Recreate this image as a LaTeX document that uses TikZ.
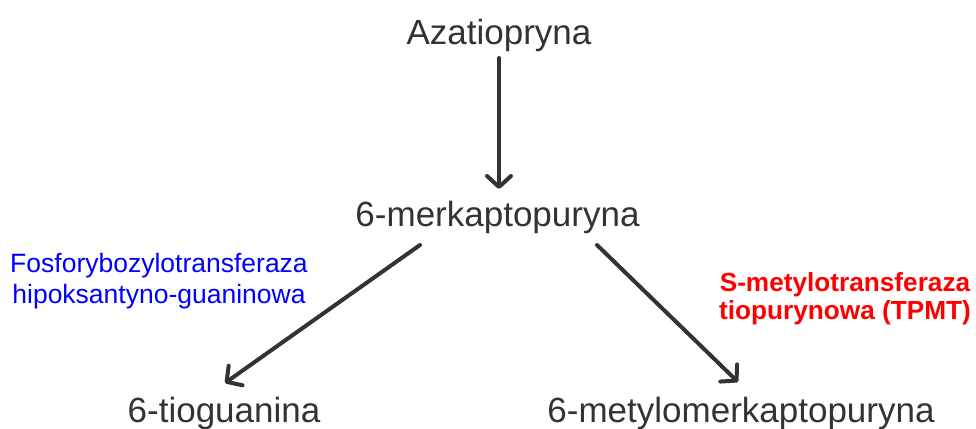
\documentclass[tikz,border=0pt]{standalone}
\usepackage{fontspec}
\setmainfont{Liberation Sans}
\usetikzlibrary{arrows.meta,calc}
\definecolor{txt}{HTML}{333333}
\definecolor{arr}{HTML}{333333}
\tikzset{
  chem/.style={anchor=base, inner sep=0pt, text=txt, font=\fontsize{35}{42}\selectfont},
  enzblue/.style={anchor=base, inner sep=0pt, align=center, text=blue, font=\fontsize{26.5}{31}\selectfont},
  enzred/.style={anchor=base, inner sep=0pt, align=center, text=red, font=\bfseries\fontsize{26.2}{28}\selectfont},
  conn/.style={draw=arr, line width=4pt, line cap=round, -{Straight Barb[length=11pt,width=24pt,line cap=round,line join=round]}}
}
\begin{document}
\begin{tikzpicture}[x=1pt,y=-1pt]
\useasboundingbox (0,0) rectangle (976,428);
\node[chem] (aza) at (499,45) {Azatiopryna};
\node[chem] (mp) at (497.5,226) {6-merkaptopuryna};
\node[chem] (tg) at (224,422) {6-tioguanina};
\node[chem] (mmp) at (741,422) {6-metylomerkaptopuryna};
\node[enzblue] (hgprt) at (159,303) {Fosforybozylotransferaza\\hipoksantyno-guaninowa};
\node[enzred] (tpmt) at (845,319) {S-metylotransferaza\\tiopurynowa (TPMT)};
\coordinate (aza-out) at ($(aza.base)+(0,13)$);
\coordinate (mp-in) at ($(mp.base)+(1.5,-37)$);
\coordinate (mp-l) at ($(mp.base)+(-77.5,19)$);
\coordinate (mp-r) at ($(mp.base)+(99.5,19)$);
\coordinate (tg-in) at ($(tg.base)+(1,-39)$);
\coordinate (mmp-in) at ($(mmp.base)+(-3,-40)$);
\draw[conn] (aza-out) -- (mp-in);
\draw[conn] (mp-l) -- (tg-in);
\draw[conn] (mp-r) -- (mmp-in);
\end{tikzpicture}
\end{document}
